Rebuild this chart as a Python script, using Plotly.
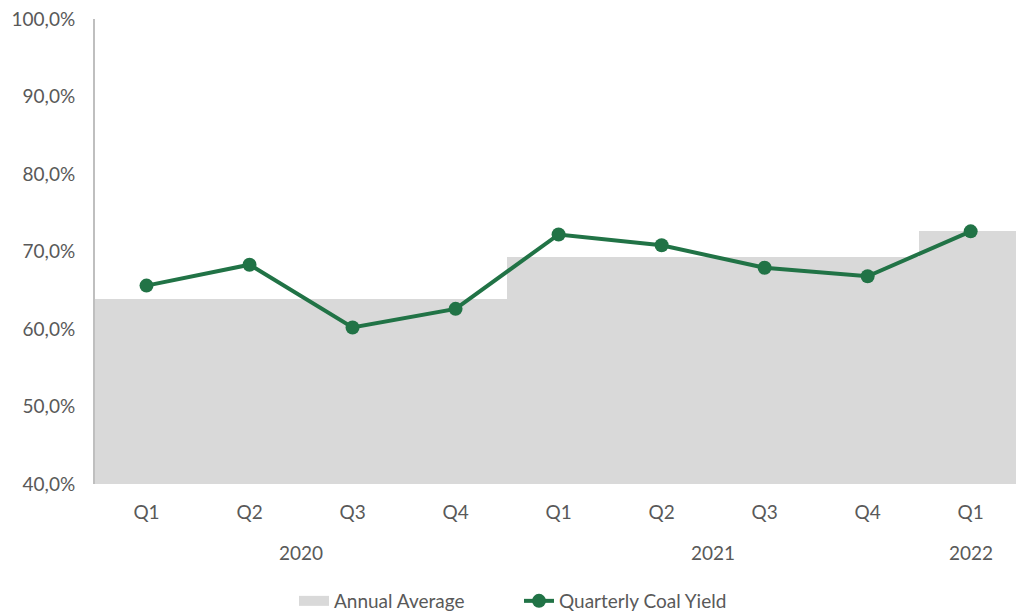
import plotly.graph_objects as go

quarters = ["Q1", "Q2", "Q3", "Q4", "Q1", "Q2", "Q3", "Q4", "Q1"]
quarter_year = ["2020", "2020", "2020", "2020", "2021", "2021", "2021", "2021", "2022"]
years = ["2020", "2021", "2022"]
annual_average = [63.9, 69.3, 72.6]
quarterly_yield = [65.6, 68.3, 60.2, 62.6, 72.2, 70.8, 67.9, 66.8, 72.6]
y_ticks = [40, 50, 60, 70, 80, 90, 100]
y_tick_text = [f"{v:.1f}%".replace(".", ",") for v in y_ticks]

x_idx = list(range(len(quarters)))
avg_by_year = dict(zip(years, annual_average))
avg_series = [avg_by_year[y] for y in quarter_year]

FONT = "Lato, 'Open Sans', sans-serif"
TXT = "#595959"
GREEN = "#217346"
GRAY = "#d9d9d9"
FS = 19

fig = go.Figure()
fig.add_trace(go.Bar(
    x=x_idx, y=avg_series, name="Annual Average",
    marker=dict(color=GRAY, line=dict(width=0)), width=1.0,
    showlegend=False,
))
# legend-only entry drawn as a wide grey block, like the original
fig.add_trace(go.Scatter(
    x=[None], y=[None], name="Annual Average", mode="lines",
    line=dict(color=GRAY, width=15), showlegend=True,
))
fig.add_trace(go.Scatter(
    x=x_idx, y=quarterly_yield, name="Quarterly Coal Yield",
    mode="lines+markers",
    line=dict(color=GREEN, width=4),
    marker=dict(color=GREEN, size=14),
))

for yr in years:
    pos = [i for i, q in enumerate(quarter_year) if q == yr]
    fig.add_annotation(
        x=sum(pos) / len(pos), y=0, xref="x", yref="paper",
        text=yr, showarrow=False, yanchor="middle", yshift=-68,
        font=dict(family=FONT, size=FS, color=TXT),
    )

fig.update_layout(
    width=1016, height=612,
    margin=dict(l=95, r=0, t=19, b=128, autoexpand=False),
    plot_bgcolor="white", paper_bgcolor="white",
    bargap=0,
    font=dict(family=FONT, size=FS, color=TXT),
    showlegend=True,
    legend=dict(
        orientation="h", x=294 / 1016, xanchor="left", xref="container",
        y=11 / 612, yanchor="middle", yref="container",
        font=dict(family=FONT, size=FS, color=TXT),
        itemwidth=30, traceorder="normal",
        entrywidth=180, entrywidthmode="pixels",
    ),
    xaxis=dict(
        range=[-0.5, 8.44],
        tickmode="array", tickvals=x_idx, ticktext=quarters,
        showgrid=False, zeroline=False, showline=False,
        ticks="outside", ticklen=11, tickcolor="rgba(0,0,0,0)",
        tickfont=dict(family=FONT, size=FS, color=TXT),
    ),
    yaxis=dict(
        range=[40, 100],
        tickmode="array", tickvals=y_ticks, ticktext=y_tick_text,
        showgrid=False, zeroline=False,
        showline=True, linecolor="#bfbfbf", linewidth=2,
        ticks="outside", ticklen=14, tickcolor="rgba(0,0,0,0)",
        tickfont=dict(family=FONT, size=FS, color=TXT),
    ),
)

fig.write_html("out.html")
